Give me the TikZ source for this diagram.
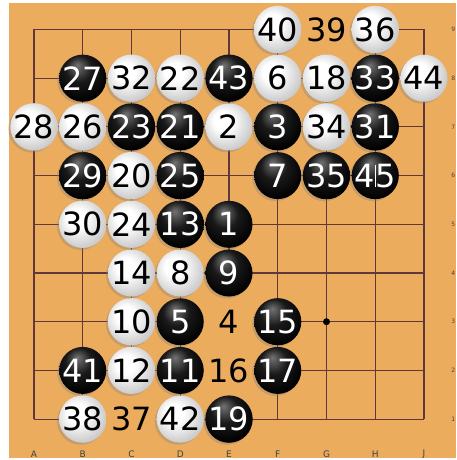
\documentclass[tikz,border=0pt]{standalone}
\usepackage{fontspec}
\setmainfont{DejaVu Sans}
\usetikzlibrary{positioning,shadows}
\definecolor{wood}{RGB}{236,172,94}
\definecolor{gridline}{RGB}{96,56,60}
\pgfdeclareradialshading{wball}{\pgfpoint{-8bp}{8bp}}{color(0bp)=(white); color(10bp)=(white); color(26bp)=(black!18); color(50bp)=(black!45)}
\pgfdeclareradialshading{bball}{\pgfpoint{-6bp}{14bp}}{color(0bp)=(black!55); color(14bp)=(black!90); color(30bp)=(black); color(50bp)=(black)}
\tikzset{
  gridln/.style={draw=gridline, line width=1.1pt},
  stone/.style={circle, minimum size=47pt, inner sep=0pt, font=\fontsize{32}{32}\selectfont,
    drop shadow={shadow xshift=-2pt, shadow yshift=-2pt, opacity=0.35}},
  bstone/.style={stone, shading=bball, text=white},
  wstone/.style={stone, shading=wball, text=black},
  numlabel/.style={circle, fill=wood, minimum size=51pt, inner sep=0pt, font=\fontsize{32}{32}\selectfont, text=black},
  collabel/.style={font=\fontsize{9}{9}\selectfont, text=black!75, inner sep=0pt},
  rowlabel/.style={font=\fontsize{6}{6}\selectfont, text=black!75, inner sep=0pt, anchor=east},
  hoshi/.style={fill=black}
}
\begin{document}
\begin{tikzpicture}[x=1pt, y=-1pt]
\useasboundingbox (0,0) rectangle (456,460);
\fill[white] (0,0) rectangle (456,460);
\fill[wood] (9,3) rectangle (456,458);
% board points
\foreach \c [count=\i from 0] in {A,B,C,D,E,F,G,H,J}{
  \foreach \r in {1,...,9}{
    \coordinate (\c\r) at ({34+48.75*\i},{29.5+48.7*(9-\r)});
  }
  \node[collabel] (col\c) at ({34+48.75*\i},454) {\c};
}
\foreach \r in {1,...,9}
  \node[rowlabel] (row\r) at (455.5,{29.5+48.7*(9-\r)}) {\r};
% grid
\foreach \c in {A,B,C,D,E,F,G,H,J}
  \draw[gridln] (\c1) -- (\c9);
\foreach \r in {1,...,9}
  \draw[gridln] (A\r) -- (J\r);
\fill[hoshi] (G3) circle (3.5);
% moves
\foreach \p/\n in {E3/4, E2/16, C1/37, G9/39}
  \node[numlabel] (s\n) at (\p) {\n};
\foreach \p/\n in {E5/1, F7/3, D3/5, F6/7, E4/9, D2/11, D5/13, F3/15, F2/17, E1/19,
    D7/21, C7/23, D6/25, B8/27, B6/29, H7/31, H8/33, G6/35, B2/41, E8/43, H6/45}
  \node[bstone] (s\n) at (\p) {\n};
\foreach \p/\n in {E7/2, F8/6, D4/8, C3/10, C2/12, C4/14, G8/18, C6/20, D8/22, C5/24,
    B7/26, A7/28, B5/30, C8/32, G7/34, H9/36, B1/38, F9/40, D1/42, J8/44}
  \node[wstone] (s\n) at (\p) {\n};
\draw[white, line width=0.8pt] ([yshift=11pt]s45.center) -- ([yshift=-11pt]s45.center);
\end{tikzpicture}
\end{document}
